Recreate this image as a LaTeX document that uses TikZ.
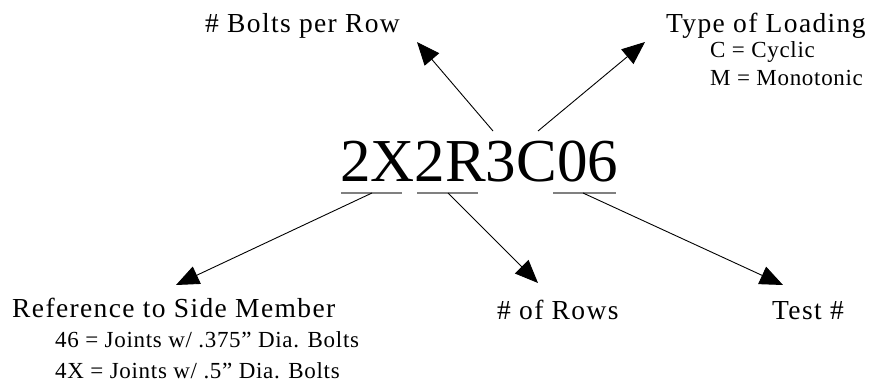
\documentclass[tikz,border=0pt]{standalone}
\usepackage{fontspec}
\setmainfont{Liberation Serif}
\newfontfamily\lblfont[LetterSpace=5]{Liberation Serif}
\newfontfamily\subfont[LetterSpace=3]{Liberation Serif}
\usetikzlibrary{arrows.meta}
\begin{document}
\begin{tikzpicture}[x=1pt,y=-1pt,
  lbl/.style={inner sep=0pt, anchor=base west, font=\lblfont\fontsize{27.5}{30}\selectfont},
  sub/.style={inner sep=0pt, anchor=base west, font=\subfont\fontsize{23}{26}\selectfont},
  arr/.style={draw=black, line width=0.9pt, -{Triangle[length=23pt,width=19pt]}},
  uline/.style={draw=gray, line width=1.8pt}]
\useasboundingbox (0,0) rectangle (876,387);
\fill[white] (0,0) rectangle (876,387);
% main code
\node[inner sep=0pt, anchor=base west, font=\fontsize{61}{70}\selectfont] (code) at (340,182) {2X2R3C06};
% underlines
\coordinate (u1a) at (341,193); \coordinate (u1b) at (402,193);
\coordinate (u2a) at (417,193); \coordinate (u2b) at (478,193);
\coordinate (u3a) at (553,193); \coordinate (u3b) at (616,193);
\draw[uline] (u1a) -- (u1b);
\draw[uline] (u2a) -- (u2b);
\draw[uline] (u3a) -- (u3b);
% labels
\node[lbl] (bolts) at (205,33) {\# Bolts per Row};
\node[lbl] (type) at (666,33) {Type of Loading};
\node[sub] (cyc) at (710,58) {C = Cyclic};
\node[sub] (mono) at (710,86) {M = Monotonic};
\node[lbl] (ref) at (12,318) {Reference to Side Member};
\node[sub] (j46) at (55,348) {46 = Joints w/ .375” Dia. Bolts};
\node[sub] (j4x) at (55,379) {4X = Joints w/ .5” Dia. Bolts};
\node[lbl] (rows) at (497,320) {\# of Rows};
\node[lbl] (test) at (772,320) {Test \#};
% arrow ends
\coordinate (s1) at (372,193); \coordinate (t1) at (176,285);
\coordinate (s2) at (448,193); \coordinate (t2) at (538,283);
\coordinate (s3) at (583,193); \coordinate (t3) at (783,285);
\coordinate (s4) at (493,131); \coordinate (t4) at (417,42);
\coordinate (s5) at (538,131); \coordinate (t5) at (645,42);
\draw[arr] (s1) -- (t1);
\draw[arr] (s2) -- (t2);
\draw[arr] (s3) -- (t3);
\draw[arr] (s4) -- (t4);
\draw[arr] (s5) -- (t5);
\end{tikzpicture}
\end{document}
